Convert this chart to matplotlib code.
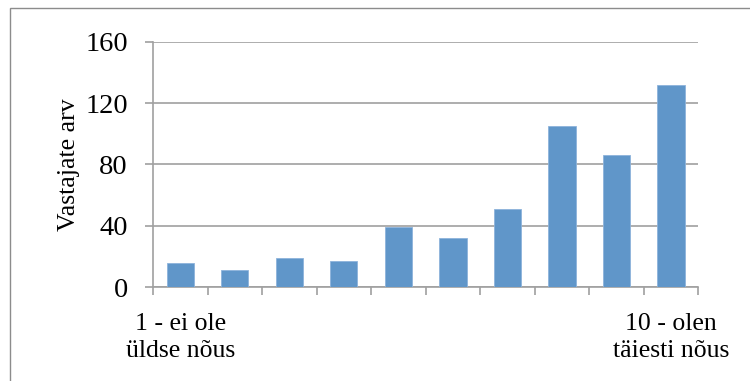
import matplotlib.pyplot as plt
from matplotlib.patches import Rectangle
from matplotlib.ticker import FixedLocator

plt.rcParams["font.family"] = ["Liberation Serif", "DejaVu Serif"]

# Hinnangud skaalal 1-10 ja vastajate arv
hinnangud = list(range(1, 11))
vastajad = [16, 11, 19, 17, 39, 32, 51, 105, 86, 132]
x_sildid = ["1 - ei ole\nüldse nõus", "", "", "", "", "", "", "", "",
            "10 - olen\ntäiesti nõus"]
y_tikid = [0, 40, 80, 120, 160]

BAR_COLOR = "#6096C9"
GRID_COLOR = "#A0A0A0"

fig = plt.figure(figsize=(7.5, 3.81), dpi=100)
ax = fig.add_axes([0.204, 0.2467, 0.727, 0.6431])

pos = list(range(len(hinnangud)))
ax.bar(pos, vastajad, width=0.5, color=BAR_COLOR, edgecolor="#8DB3DB",
       linewidth=0.6, zorder=3)

ax.set_xlim(-0.5, len(hinnangud) - 0.5)
ax.set_ylim(0, 160)
ax.set_yticks(y_tikid)
ax.set_xticks(pos)
ax.set_xticklabels(x_sildid, fontsize=18.5, linespacing=1.3)
ax.xaxis.set_minor_locator(FixedLocator([p - 0.5 for p in pos] + [len(pos) - 0.5]))
ax.tick_params(axis="x", which="major", length=0, pad=19)
ax.tick_params(axis="x", which="minor", length=6, width=1.2, color=GRID_COLOR)
ax.tick_params(axis="y", length=6, width=1.2, color=GRID_COLOR,
               labelsize=20.5, pad=12)

ax.set_ylabel("Vastajate arv", fontsize=18.5, labelpad=4)

ax.grid(axis="y", color=GRID_COLOR, linewidth=1.2, zorder=0)
ax.set_axisbelow(True)
for side in ("top", "right"):
    ax.spines[side].set_visible(False)
for side in ("left", "bottom"):
    ax.spines[side].set_color(GRID_COLOR)
    ax.spines[side].set_linewidth(1.2)

# raam ümber joonise
fig.patches.append(Rectangle((10 / 750, -0.1), 1.2, (381 - 8) / 381 + 0.1,
                             transform=fig.transFigure, fill=False,
                             edgecolor="#8C8C8C", linewidth=1.0))

fig.savefig("out.png", dpi=100)
